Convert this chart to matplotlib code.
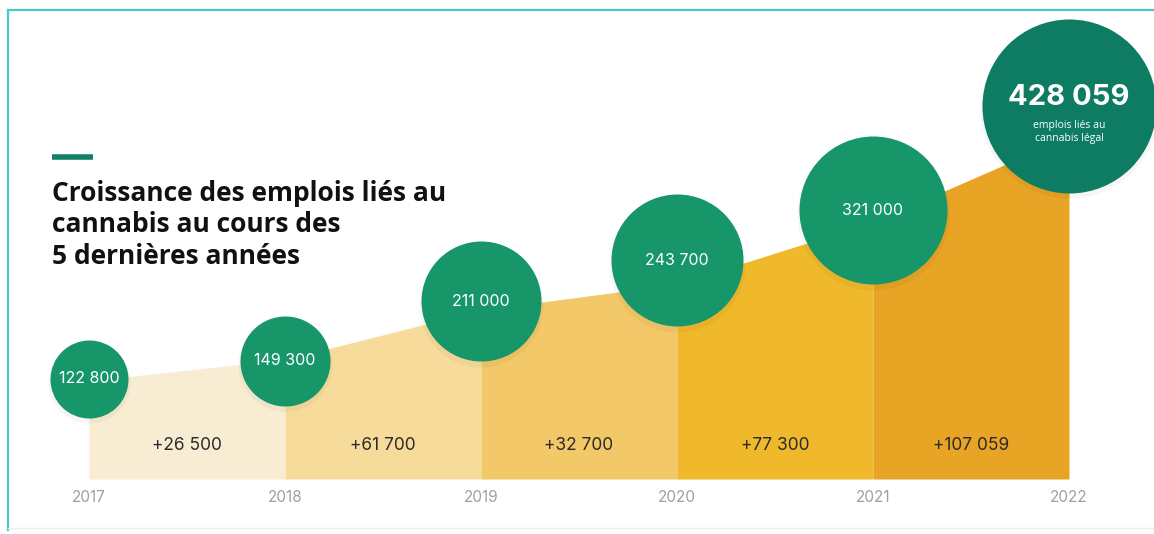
import numpy as np
import matplotlib
matplotlib.use('Agg')
import matplotlib.pyplot as plt
from matplotlib.transforms import offset_copy
from matplotlib.lines import Line2D

# data
years = [2017, 2018, 2019, 2020, 2021, 2022]
jobs = [122800, 149300, 211000, 243700, 321000, 428059]
job_labels = ['122 800', '149 300', '211 000', '243 700', '321 000', '428 059']
gain_labels = ['+26 500', '+61 700', '+32 700', '+77 300', '+107 059']
title_lines = ['Croissance des emplois liés au', 'cannabis au cours des', '5 dernières années']
last_note = 'emplois liés au\ncannabis légal'

# styling / layout
seg_colors = ['#f8ecd2', '#f7db9a', '#f2c868', '#f0b92b', '#e8a424']
bubble_green = '#17966a'
bubble_last = '#0e7c63'
bubble_r = [39, 45, 60, 66, 74, 87]          # radius in pixels
bubble_lift = [2, -1, 9, 24, 12, 31]         # pixels above the area top

W, H, DPI = 1154, 534, 100
fig = plt.figure(figsize=(W / DPI, H / DPI), dpi=DPI)
fig.patch.set_facecolor('white')
ax = fig.add_axes([0, 0, 1, 1])
ax.set_axis_off()
ax.set_xlim(2017 - 89 / 196, 2022 + 85 / 196)
ax.set_ylim(-55 / 0.8 * 1000, 479 / 0.8 * 1000)

# stepped coloured area, one block per year
for i in range(len(years) - 1):
    ax.fill_between(years[i:i + 2], jobs[i:i + 2], 0, color=seg_colors[i],
                    linewidth=0, zorder=1)
    xm = (years[i] + years[i + 1]) / 2
    ax.annotate(gain_labels[i], (xm, 0), xytext=(0, 24), textcoords='offset points',
                ha='center', va='center', fontsize=12.5, color='#2b2b2b',
                family='Inter', zorder=3)

# year labels
for y in years:
    ax.annotate(str(y), (y, 0), xytext=(0, -13), textcoords='offset points',
                ha='center', va='center', fontsize=11, color='#9ca1a6',
                family='Inter')

# bubbles
for i, (y, v) in enumerate(zip(years, jobs)):
    tr = offset_copy(ax.transData, fig=fig, x=0, y=bubble_lift[i] * 0.72, units='points')
    sh = offset_copy(ax.transData, fig=fig, x=0, y=bubble_lift[i] * 0.72 - 2.5, units='points')
    d = 2 * bubble_r[i] * 0.72
    col = bubble_last if i == len(years) - 1 else bubble_green
    ax.scatter([y], [v], s=(d + 3) ** 2, color='#000000', alpha=0.035,
               transform=sh, linewidths=0, zorder=4)
    ax.scatter([y], [v], s=d ** 2, color=col, transform=tr, linewidths=0, zorder=5)
    if i == len(years) - 1:
        tb = offset_copy(ax.transData, fig=fig, x=0, y=bubble_lift[i] * 0.72 + 6, units='points')
        ax.text(y, v, job_labels[i], transform=tb, ha='center', va='center',
                fontsize=21, fontweight='bold', color='white', family='Inter', zorder=6)
        tn = offset_copy(ax.transData, fig=fig, x=0, y=bubble_lift[i] * 0.72 - 19, units='points')
        ax.text(y, v, last_note, transform=tn, ha='center', va='center',
                fontsize=7.5, color='white', family='Open Sans', linespacing=1.2, zorder=6)
    else:
        ax.text(y, v, job_labels[i], transform=tr, ha='center', va='center',
                fontsize=11.5, color='white', family='Inter', zorder=6)

# title block
fig.text(52 / W, 1 - 225 / H, '\n'.join(title_lines), ha='left', va='center',
         fontsize=19, fontweight='bold', color='#111111', family='Open Sans',
         linespacing=1.2)
fig.add_artist(Line2D([52 / W, 93 / W], [1 - 156.5 / H] * 2, color='#10806a', lw=4,
                      solid_capstyle='butt'))

# frame lines
fig.add_artist(Line2D([8 / W, 1], [1 - 10 / H] * 2, color='#4cc6c6', lw=1.6))
fig.add_artist(Line2D([8 / W, 8 / W], [1 - 10 / H, 1 - 530 / H], color='#4cc6c6', lw=1.6))
fig.add_artist(Line2D([8 / W, 1], [1 - 528 / H] * 2, color='#eeeeee', lw=1))

fig.savefig('out.png', dpi=DPI, facecolor='white')
